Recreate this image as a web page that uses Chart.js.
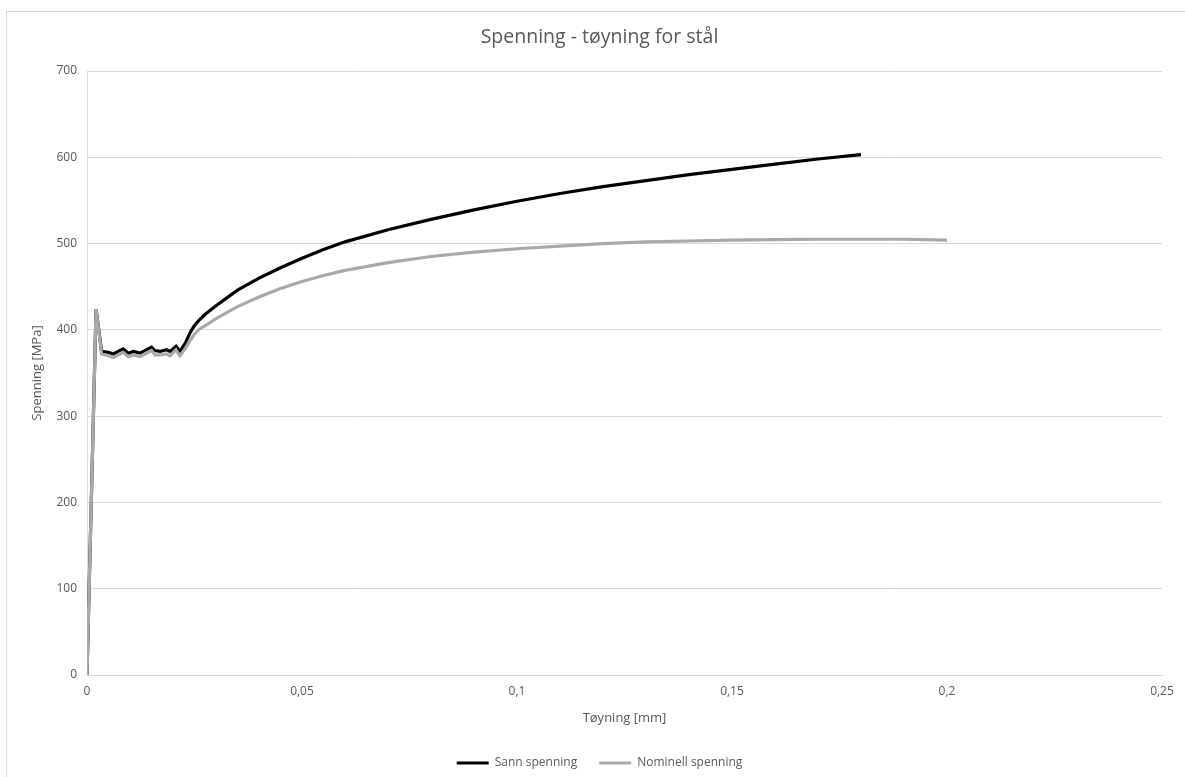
<!DOCTYPE html>
<html lang="no">
<head>
  <meta charset="UTF-8">
  <title>Spenning - tøyning for stål</title>
  <script src="https://cdn.jsdelivr.net/npm/chart.js"></script>
  <style>
    body {
      margin: 0;
      background: #fff;
      overflow: hidden;
      font-family: 'Open Sans', sans-serif;
    }
    .frame {
      position: absolute;
      left: 6px;
      top: 11px;
      width: 1200px;
      height: 800px;
      border: 1px solid #d9d9d9;
    }
    #chart {
      position: absolute;
      left: 0;
      top: 0;
    }
  </style>
</head>
<body>
  <div class="frame"></div>
  <canvas id="chart" width="1200" height="779"></canvas>

  <script>
    // Tøyning (x) og spenning (y), lest av figuren
    const strainSann = [0, 0.0021, 0.0034, 0.0050, 0.0061, 0.0084, 0.0096, 0.0108, 0.0123, 0.0150, 0.0158, 0.0170,
      0.0185, 0.0193, 0.0207, 0.0216, 0.0228, 0.0240, 0.0250, 0.0262, 0.0275, 0.030, 0.035, 0.040, 0.045, 0.050,
      0.055, 0.060, 0.070, 0.080, 0.090, 0.100, 0.110, 0.120, 0.130, 0.140, 0.150, 0.160, 0.170, 0.180];
    const stressSann = [0, 424, 375, 374, 372, 378, 373, 375, 373, 380, 376, 375,
      377, 375, 381, 375, 384, 397, 405, 412, 418, 428, 446, 460, 472, 483,
      493, 502, 516, 528, 539, 549, 558, 566, 573, 580, 586, 592, 598, 603];

    const strainNominell = [0, 0.0021, 0.0034, 0.0050, 0.0061, 0.0084, 0.0096, 0.0108, 0.0123, 0.0150, 0.0158, 0.0170,
      0.0185, 0.0193, 0.0207, 0.0216, 0.0228, 0.0240, 0.0250, 0.0262, 0.0275, 0.030, 0.035, 0.040, 0.045, 0.050,
      0.055, 0.060, 0.070, 0.080, 0.090, 0.100, 0.110, 0.120, 0.130, 0.140, 0.150, 0.160, 0.170, 0.180, 0.190, 0.200];
    const stressNominell = [0, 424, 372, 370, 368, 374, 369, 371, 369, 376, 371, 371,
      372, 370, 377, 370, 378, 388, 395, 401, 405, 413, 427, 438, 448, 456,
      463, 469, 478, 485, 490, 494, 497, 500, 502, 503, 504, 504.5, 505, 505, 505, 504];

    const xTickLabels = ['0', '0,05', '0,1', '0,15', '0,2', '0,25'];
    const yTicks = [0, 100, 200, 300, 400, 500, 600, 700];

    const toPoints = (xs, ys) => xs.map((x, i) => ({ x: x, y: ys[i] }));
    const textColor = '#595959';
    const gridColor = '#d9d9d9';

    new Chart(document.getElementById('chart').getContext('2d'), {
      type: 'scatter',
      data: {
        datasets: [{
          label: 'Sann spenning',
          data: toPoints(strainSann, stressSann),
          showLine: true,
          borderColor: '#000000',
          backgroundColor: '#000000',
          borderWidth: 3.2,
          pointRadius: 0,
          tension: 0,
          order: 1
        }, {
          label: 'Nominell spenning',
          data: toPoints(strainNominell, stressNominell),
          showLine: true,
          borderColor: '#a9a9a9',
          backgroundColor: '#a9a9a9',
          borderWidth: 3.2,
          pointRadius: 0,
          tension: 0,
          order: 0
        }]
      },
      options: {
        responsive: false,
        animation: false,
        layout: { padding: { left: 6, right: 7, top: 11, bottom: 0 } },
        plugins: {
          title: {
            display: true,
            text: 'Spenning - tøyning for stål',
            color: textColor,
            font: { family: 'Open Sans', size: 19.5, weight: 'normal', lineHeight: 1.2 },
            padding: { top: 15, bottom: 21.6 }
          },
          legend: {
            position: 'bottom',
            labels: {
              color: textColor,
              font: { family: 'Open Sans', size: 12 },
              usePointStyle: true,
              pointStyle: 'line',
              pointStyleWidth: 32,
              padding: 22,
              sort: (a, b) => a.datasetIndex - b.datasetIndex
            }
          },
          tooltip: { enabled: false }
        },
        scales: {
          x: {
            type: 'linear',
            min: 0,
            max: 0.25,
            afterBuildTicks: axis => { axis.ticks = xTickLabels.map((_, i) => ({ value: i * 0.05 })); },
            ticks: {
              color: textColor,
              font: { family: 'Open Sans', size: 12 },
              padding: 9,
              callback: (v, i) => xTickLabels[i]
            },
            grid: { display: false, drawTicks: false },
            border: { display: true, color: gridColor },
            title: {
              display: true,
              text: 'Tøyning [mm]',
              color: textColor,
              font: { family: 'Open Sans', size: 13 },
              padding: { top: 6, bottom: 9 }
            },
            afterFit: axis => { axis.height = 60; }
          },
          y: {
            type: 'linear',
            min: 0,
            max: 700,
            afterBuildTicks: axis => { axis.ticks = yTicks.map(v => ({ value: v })); },
            ticks: {
              color: textColor,
              font: { family: 'Open Sans', size: 12 },
              padding: 10
            },
            grid: { color: gridColor, drawTicks: false },
            border: { display: true, color: gridColor },
            title: {
              display: true,
              text: 'Spenning [MPa]',
              color: textColor,
              font: { family: 'Open Sans', size: 13 },
              padding: { top: 23, bottom: 0 }
            },
            afterFit: axis => { axis.width = 81; }
          },
          // tom plass til høyre for plottet
          spacer: {
            type: 'linear',
            position: 'right',
            display: true,
            min: 0,
            max: 700,
            ticks: { display: false },
            grid: { display: false, drawTicks: false },
            border: { display: false },
            afterFit: axis => { axis.width = 31; }
          }
        }
      }
    });
  </script>
</body>
</html>
